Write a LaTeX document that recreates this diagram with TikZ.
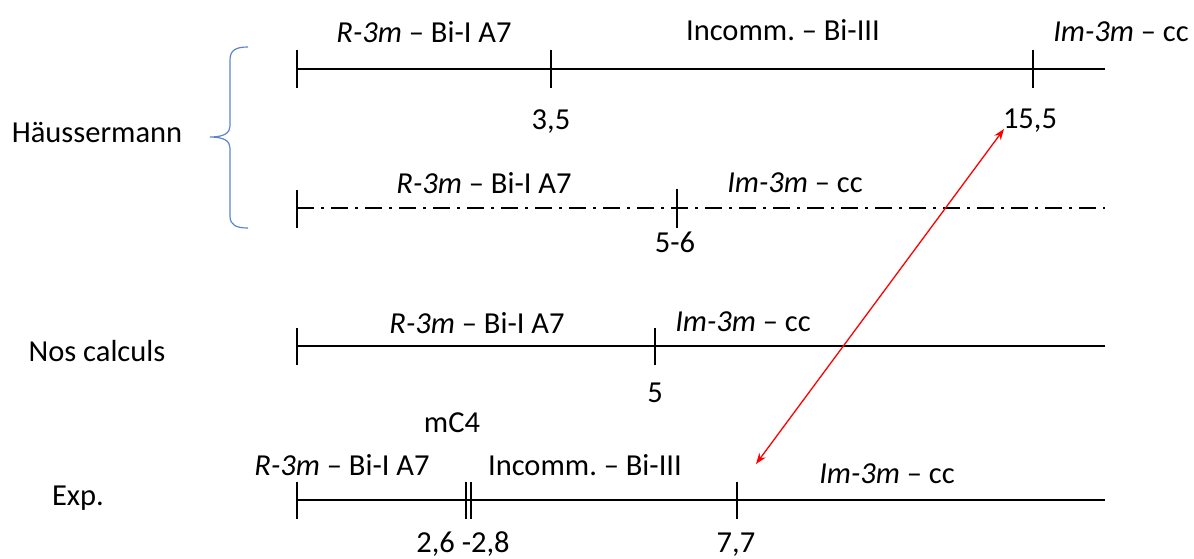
\documentclass[tikz,border=0pt]{standalone}
\usepackage{fontspec}
\setmainfont{Carlito}
\usetikzlibrary{arrows.meta}
\frenchspacing
\begin{document}
\begin{tikzpicture}[x=1pt,y=-1pt,
  axis/.style={line width=2.4pt,black},
  dashdot/.style={line width=2.4pt,black,dash pattern=on 17pt off 7pt on 3pt off 7pt},
  tick/.style={line width=2.2pt,black},
  lbl/.style={inner sep=0pt,font=\fontsize{30.5}{36}\selectfont\frenchspacing},
  num/.style={lbl,anchor=base},
  redarrow/.style={red,line width=1.3pt,{Stealth[length=11pt,width=8pt]}-{Stealth[length=11pt,width=8pt]}},
  bracestyle/.style={color={rgb,255:red,91;green,134;blue,204},line width=1.2pt}]
\useasboundingbox (0,0) rectangle (1194,558);
% Row 1
\coordinate (a1) at (297,69); \coordinate (b1) at (1105,69);
\draw[axis] (a1) -- (b1);
\draw[tick] (297,50) -- (297,88);
\draw[tick] (551,50) -- (551,88);
\draw[tick] (1033,50) -- (1033,88);
\node[lbl] (r1a) at (424,32) {\textit{R-3m} – Bi-I A7};
\node[lbl] (r1b) at (783,30) {Incomm. – Bi-III};
\node[lbl] (r1c) at (1121,32) {\textit{Im-3m} – cc};
\node[num] (v35) at (551,129) {3,5};
\node[num] (v155) at (1030,128) {15,5};
% Row 2
\coordinate (a2) at (297,208); \coordinate (b2) at (1105,208);
\draw[dashdot] (a2) -- (b2);
\draw[tick] (297,190) -- (297,228);
\draw[tick] (677,189) -- (677,228);
\node[lbl] (r2a) at (484,183) {\textit{R-3m} – Bi-I A7};
\node[lbl] (r2b) at (795,183) {\textit{Im-3m} – cc};
\node[num] (v56) at (675,252) {5-6};
% Brace
\draw[bracestyle] (248,47) .. controls (236,47) and (230,50) .. (230,60)
  -- (230,126) .. controls (230,133) and (224,137) .. (210,137)
  .. controls (224,137) and (230,141) .. (230,148)
  -- (230,216) .. controls (230,225) and (236,228) .. (248,228);
\node[lbl] (hauss) at (97,133) {Häussermann};
% Row 3
\coordinate (a3) at (297,346); \coordinate (b3) at (1105,346);
\draw[axis] (a3) -- (b3);
\draw[tick] (297,328) -- (297,365);
\draw[tick] (655,328) -- (655,365);
\node[lbl] (r3a) at (477,323) {\textit{R-3m} – Bi-I A7};
\node[lbl] (r3b) at (743,322) {\textit{Im-3m} – cc};
\node[num] (v5) at (655,402) {5};
\node[lbl] (nos) at (97,351) {Nos calculs};
% Row 4
\coordinate (a4) at (297,500); \coordinate (b4) at (1105,500);
\draw[axis] (a4) -- (b4);
\draw[tick] (297,482) -- (297,519);
\draw[tick] (466,482) -- (466,519);
\draw[tick] (471,482) -- (471,519);
\draw[tick] (737,482) -- (737,519);
\node[lbl] (r4a) at (342,465) {\textit{R-3m} – Bi-I A7};
\node[lbl] (r4b) at (585,465) {Incomm. – Bi-III};
\node[lbl] (r4c) at (887,474) {\textit{Im-3m} – cc};
\node[lbl] (mc4) at (452,423) {mC4};
\node[num] (v26) at (463,552) {2,6 -2,8};
\node[num] (v77) at (736,552) {7,7};
\node[lbl] (exp) at (78,498) {Exp.};
% Red arrow
\coordinate (ra) at (1004,129); \coordinate (rb) at (756,464);
\draw[redarrow] (rb) -- (ra);
\end{tikzpicture}
\end{document}
